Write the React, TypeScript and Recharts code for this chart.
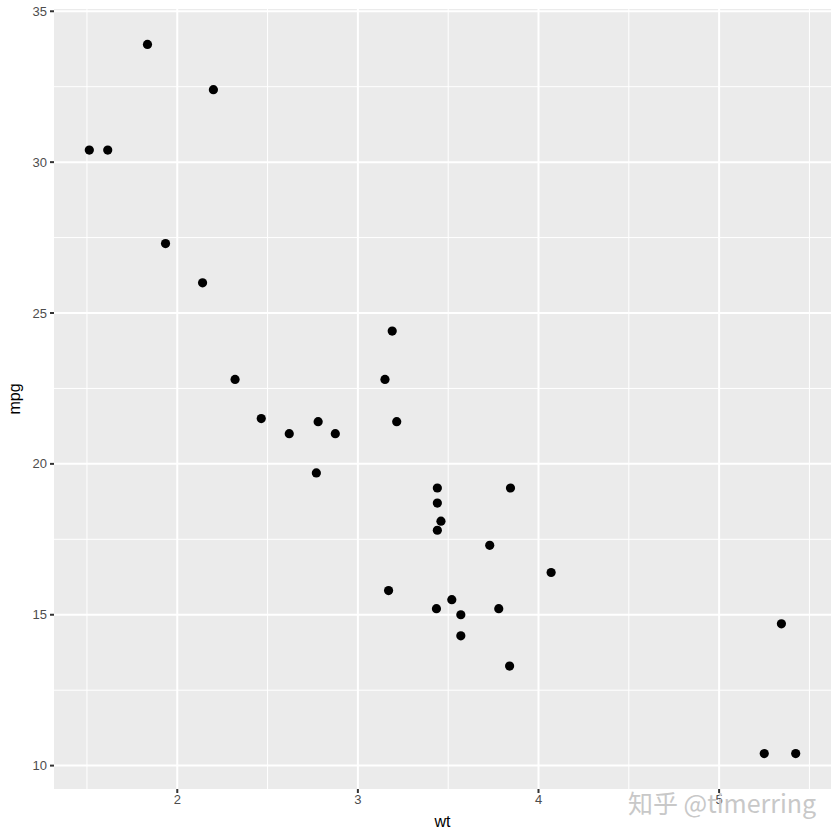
import React from "react";
import {
  ScatterChart,
  Scatter,
  XAxis,
  YAxis,
  CartesianGrid,
  ReferenceLine,
} from "recharts";

// mtcars: weight (1000 lbs) vs miles per gallon
const wt = [
  2.62, 2.875, 2.32, 3.215, 3.44, 3.46, 3.57, 3.19, 3.15, 3.44, 3.44, 4.07,
  3.73, 3.78, 5.25, 5.424, 5.345, 2.2, 1.615, 1.835, 2.465, 3.52, 3.435, 3.84,
  3.845, 1.935, 2.14, 1.513, 3.17, 2.77, 3.57, 2.78,
];
const mpg = [
  21.0, 21.0, 22.8, 21.4, 18.7, 18.1, 14.3, 24.4, 22.8, 19.2, 17.8, 16.4, 17.3,
  15.2, 10.4, 10.4, 14.7, 32.4, 30.4, 33.9, 21.5, 15.5, 15.2, 13.3, 19.2, 27.3,
  26.0, 30.4, 15.8, 19.7, 15.0, 21.4,
];

const xTicks = [2, 3, 4, 5];
const yTicks = [10, 15, 20, 25, 30, 35];
const xMinor = [1.5, 2.5, 3.5, 4.5, 5.5];
const yMinor = [12.5, 17.5, 22.5, 27.5, 32.5];

const data = wt.map((w, i) => ({ wt: w, mpg: mpg[i] }));

// ggplot-style 5% expansion on each side
const expand = (vals: number[]): [number, number] => {
  const lo = Math.min(...vals);
  const hi = Math.max(...vals);
  const pad = (hi - lo) * 0.05;
  return [lo - pad, hi + pad];
};

const FONT = "'Liberation Sans', Arial, sans-serif";
const TICK = { fill: "#4D4D4D", fontSize: 13, fontFamily: FONT };

const Dot = (props: any) => (
  <circle cx={props.cx} cy={props.cy} r={4.6} fill="#000" />
);

export default function App() {
  return (
    <div style={{ position: "absolute", left: 0, top: 0, width: 840, height: 840, background: "#fff" }}>
      <ScatterChart
        width={840}
        height={840}
        margin={{ top: 9, right: 9, bottom: 0, left: 0 }}
      >
        <CartesianGrid fill="#EBEBEB" stroke="none" />
        {xMinor.map((v) => (
          <ReferenceLine key={"xm" + v} x={v} stroke="#fff" strokeWidth={1} />
        ))}
        {yMinor.map((v) => (
          <ReferenceLine key={"ym" + v} y={v} stroke="#fff" strokeWidth={1} />
        ))}
        {xTicks.map((v) => (
          <ReferenceLine key={"x" + v} x={v} stroke="#fff" strokeWidth={2} />
        ))}
        {yTicks.map((v) => (
          <ReferenceLine key={"y" + v} y={v} stroke="#fff" strokeWidth={2} />
        ))}
        <XAxis
          type="number"
          dataKey="wt"
          domain={expand(wt)}
          ticks={xTicks}
          allowDataOverflow
          height={51}
          axisLine={false}
          tickLine={{ stroke: "#333", strokeWidth: 2 }}
          tickSize={4}
          tickMargin={2}
          tick={TICK}
          label={{
            content: (p: any) => (
              <text
                x={p.viewBox.x + p.viewBox.width / 2}
                y={827}
                textAnchor="middle"
                fontSize={16}
                fontFamily={FONT}
                fill="#000"
              >
                wt
              </text>
            ),
          }}
        />
        <YAxis
          type="number"
          dataKey="mpg"
          domain={expand(mpg)}
          ticks={yTicks}
          allowDataOverflow
          width={54}
          axisLine={false}
          tickLine={{ stroke: "#333", strokeWidth: 2 }}
          tickSize={4}
          tickMargin={3}
          tick={TICK}
          label={{
            content: (p: any) => {
              const cy = p.viewBox.y + p.viewBox.height / 2;
              return (
                <text
                  x={20}
                  y={cy}
                  transform={`rotate(-90 20 ${cy})`}
                  textAnchor="middle"
                  fontSize={16}
                  fontFamily={FONT}
                  fill="#000"
                >
                  mpg
                </text>
              );
            },
          }}
        />
        <Scatter data={data} shape={Dot} isAnimationActive={false} />
      </ScatterChart>
      <div
        style={{
          position: "absolute",
          left: 628,
          top: 784,
          fontSize: 25,
          fontFamily: "'Noto Sans CJK SC', sans-serif",
          color: "#c8c8c8",
          whiteSpace: "nowrap",
        }}
      >
        知乎 @timerring
      </div>
    </div>
  );
}
